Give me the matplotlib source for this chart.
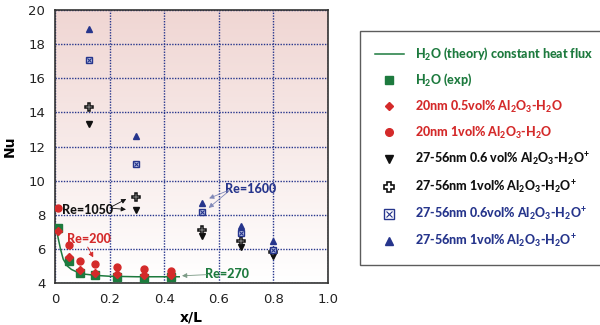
import numpy as np
import matplotlib
matplotlib.use("Agg")
import matplotlib.pyplot as plt
from matplotlib.lines import Line2D
from matplotlib.legend_handler import HandlerTuple

GREEN = "#1d7a3e"
RED = "#d42a2a"
BLUE = "#26358c"
BLACK = "#111111"

# theory curve, H2O constant heat flux
theory_x = [0.003, 0.012, 0.02, 0.03, 0.045, 0.06, 0.08, 0.11, 0.15, 0.2, 0.3, 0.455]
theory_nu = [7.3, 6.6, 6.0, 5.4, 5.0, 4.8, 4.65, 4.52, 4.45, 4.4, 4.37, 4.37]

# low-Re data (x/L positions shared)
low_x = [0.01, 0.05, 0.09, 0.148, 0.227, 0.325, 0.425]
h2o_exp = [7.2, 5.3, 4.6, 4.45, 4.35, 4.3, 4.33]
al_05 = [7.05, 5.5, 4.75, 4.6, 4.55, 4.5, 4.5]
al_1 = [8.4, 6.25, 5.3, 5.1, 4.95, 4.8, 4.7]

# high-Re data
hi_x = [0.124, 0.295, 0.538, 0.68, 0.80]
big_06 = [13.3, 8.3, 6.75, 6.1, 5.6]
big_1 = [14.3, 9.05, 7.1, 6.45, 5.8]
big_06_b = [17.1, 11.0, 8.15, 6.95, 5.95]
big_1_b = [18.9, 12.6, 8.7, 7.35, 6.45]

plt.rcParams["font.family"] = ["DejaVu Sans"]
plt.rcParams["mathtext.fontset"] = "custom"
plt.rcParams["mathtext.bf"] = "Lato:black"
plt.rcParams["mathtext.rm"] = "Lato"
NARROW = ["Lato", "DejaVu Sans"]

fig = plt.figure(figsize=(6.0, 3.25), dpi=100)
ax = fig.add_axes([0.0917, 0.129, 0.455, 0.84])

# pink-to-white background
grad = np.linspace(0, 1, 256).reshape(-1, 1)
top = np.array([240, 214, 211]) / 255.0
bot = np.array([255, 255, 255]) / 255.0
img = top[None, None, :] * (1 - grad[:, :, None]) + bot[None, None, :] * grad[:, :, None]
ax.imshow(img, extent=[0, 1, 4, 20], aspect="auto", origin="upper", zorder=0)

ax.set_xlim(0, 1.0)
ax.set_ylim(4, 20)
ax.set_xticks([0, 0.2, 0.4, 0.6, 0.8, 1.0])
ax.set_xticklabels(["0", "0.2", "0.4", "0.6", "0.8", "1.0"])
ax.set_yticks(range(4, 21, 2))
ax.tick_params(labelsize=9.5, length=0, pad=7, colors="#222222")
ax.grid(True, color=BLUE, linestyle=(0, (1, 1)), linewidth=1.0, zorder=1)
for s in ax.spines.values():
    s.set_color("#333333")
    s.set_linewidth(1.2)
ax.set_xlabel("x/L", fontsize=10, fontweight="bold")
ax.xaxis.set_label_coords(0.5, -0.1)
ax.set_ylabel("Nu", fontsize=10, fontweight="bold")
ax.yaxis.set_label_coords(-0.14, 0.5)

l_theory, = ax.plot(theory_x, theory_nu, color=GREEN, lw=1.1, zorder=3)
l_exp, = ax.plot(low_x, h2o_exp, "s", color=GREEN, ms=5.5, ls="none", zorder=4)
l_05, = ax.plot(low_x, al_05, "D", color=RED, ms=3.8, ls="none", zorder=5)
l_1, = ax.plot(low_x, al_1, "o", color=RED, ms=5, ls="none", zorder=5)
l_b06, = ax.plot(hi_x, big_06, "v", color=BLACK, ms=4.5, ls="none", zorder=5)
l_b1, = ax.plot(hi_x, big_1, "P", mfc="white", mec=BLACK, mew=1.1, ms=5.5, ls="none", zorder=5)
l_bb06a, = ax.plot(hi_x, big_06_b, "s", mfc="#c9d0ec", mec=BLUE, mew=1.0, ms=5, ls="none", zorder=5)
l_bb06b, = ax.plot(hi_x, big_06_b, "x", color=BLUE, mew=0.8, ms=3.5, ls="none", zorder=6)
l_bb1, = ax.plot(hi_x, big_1_b, "^", color=BLUE, ms=4.5, ls="none", zorder=5)

# annotations
ann = dict(fontsize=9, fontweight="black", family=NARROW)
ax.text(0.12, 8.3, "Re=1050", color=BLACK, ha="center", va="center", **ann)
for y in (9.0, 8.3):
    ax.annotate("", xy=(0.27, y), xytext=(0.198, 8.4),
                arrowprops=dict(arrowstyle="-|>", color=BLACK, lw=0.6, mutation_scale=7))
ax.text(0.123, 6.6, "Re=200", color=RED, ha="center", va="center", **ann)
ax.annotate("", xy=(0.145, 5.35), xytext=(0.115, 6.25),
            arrowprops=dict(arrowstyle="-|>", color=RED, lw=0.7, ls="--", mutation_scale=7))
ax.text(0.715, 9.5, "Re=1600", color=BLUE, ha="center", va="center", **ann)
for y in (8.9, 8.3):
    ax.annotate("", xy=(0.555, y), xytext=(0.645, 9.5),
                arrowprops=dict(arrowstyle="-|>", color="#8088b8", lw=0.6, mutation_scale=7))
ax.text(0.63, 4.55, "Re=270", color=GREEN, ha="center", va="center", **ann)
ax.annotate("", xy=(0.455, 4.42), xytext=(0.565, 4.5),
            arrowprops=dict(arrowstyle="-|>", color="#7a9a85", lw=0.6, mutation_scale=7))

handles = [
    Line2D([], [], color=GREEN, lw=1.1),
    Line2D([], [], marker="s", color=GREEN, ms=6, ls="none"),
    Line2D([], [], marker="D", color=RED, ms=4, ls="none"),
    Line2D([], [], marker="o", color=RED, ms=5.5, ls="none"),
    Line2D([], [], marker="v", color=BLACK, ms=6, ls="none"),
    Line2D([], [], marker="P", mfc="white", mec=BLACK, mew=1.2, ms=7, ls="none"),
    (Line2D([], [], marker="s", mfc="white", mec=BLUE, mew=1.0, ms=6.5, ls="none"),
     Line2D([], [], marker="x", color=BLUE, mew=0.8, ms=5, ls="none")),
    Line2D([], [], marker="^", color=BLUE, ms=6, ls="none"),
]
sub2 = r"$_\mathbf{2}$"
sub3 = r"$_\mathbf{3}$"
sup = r"$^\mathbf{+}$"
labels = [
    "H" + sub2 + "O (theory) constant heat flux",
    "H" + sub2 + "O (exp)",
    "20nm 0.5vol% Al" + sub2 + "O" + sub3 + "-H" + sub2 + "O",
    "20nm 1vol% Al" + sub2 + "O" + sub3 + "-H" + sub2 + "O",
    "27-56nm 0.6 vol% Al" + sub2 + "O" + sub3 + "-H" + sub2 + "O" + sup,
    "27-56nm 1vol% Al" + sub2 + "O" + sub3 + "-H" + sub2 + "O" + sup,
    "27-56nm 0.6vol% Al" + sub2 + "O" + sub3 + "-H" + sub2 + "O" + sup,
    "27-56nm 1vol% Al" + sub2 + "O" + sub3 + "-H" + sub2 + "O" + sup,
]
label_colors = [GREEN, GREEN, RED, RED, BLACK, BLACK, BLUE, BLUE]

leg = fig.legend(handles, labels, loc="upper left",
                 bbox_to_anchor=(0.6, 0.905),
                 frameon=True, fancybox=False, labelspacing=0.8,
                 handlelength=2.3, handletextpad=0.9, borderpad=1.2,
                 borderaxespad=0.0,
                 handler_map={tuple: HandlerTuple(ndivide=1, pad=0)},
                 prop={"weight": "black", "size": 9, "family": NARROW})
leg.get_frame().set_edgecolor("#333333")
leg.get_frame().set_linewidth(1.0)
for t, c in zip(leg.get_texts(), label_colors):
    t.set_color(c)

fig.savefig("out.png", dpi=100)
